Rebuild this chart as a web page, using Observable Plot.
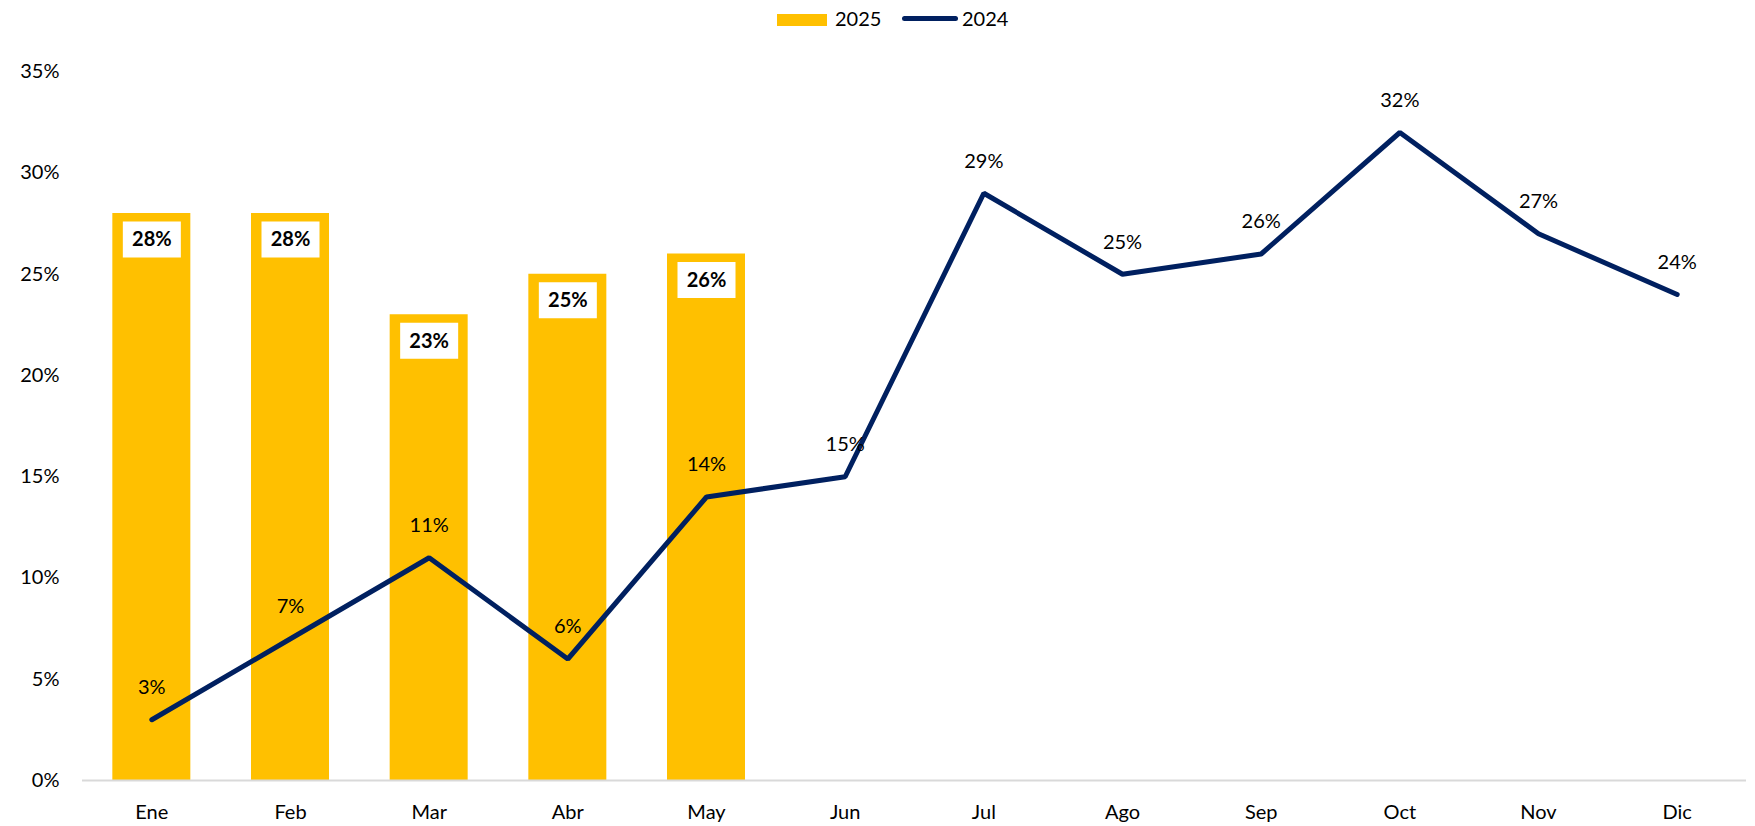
<!DOCTYPE html>
<html>
<head>
<meta charset="utf-8">
<script src="https://cdn.jsdelivr.net/npm/d3@7"></script>
<script src="https://cdn.jsdelivr.net/npm/@observablehq/plot@0.6"></script>
<style>
  html, body { margin: 0; padding: 0; background: #fff; }
  body { width: 1755px; height: 826px; overflow: hidden; font-family: Lato, "Open Sans", sans-serif; }
  #legend { position: relative; height: 36px; width: 1755px; font-size: 20px; color: #000; }
  #legend .sw { position: absolute; }
  #legend .lab { position: absolute; top: 5px; line-height: 26px; }
</style>
</head>
<body>
<div id="legend">
  <div class="sw" style="left:777px;top:14px;width:50px;height:12px;background:#FFC000"></div>
  <div class="lab" style="left:835px">2025</div>
  <div class="sw" style="left:902px;top:16px;width:56px;height:5px;border-radius:3px;background:#002060"></div>
  <div class="lab" style="left:962px">2024</div>
</div>
<div id="chart"></div>
<script>
const months = ["Ene","Feb","Mar","Abr","May","Jun","Jul","Ago","Sep","Oct","Nov","Dic"];
const months2025 = ["Ene","Feb","Mar","Abr","May"];
const values2025 = [28, 28, 23, 25, 26];
const values2024 = [3, 7, 11, 6, 14, 15, 29, 25, 26, 32, 27, 24];
const yTicks = [0, 5, 10, 15, 20, 25, 30, 35];

const bars = months2025.map((m, i) => ({month: m, value: values2025[i]}));
const line = months.map((m, i) => ({month: m, value: values2024[i]}));

const boxSymbol = { draw(context) { context.rect(-29, -18, 58, 36); } };

const chart = Plot.plot({
  width: 1755,
  height: 790,
  marginLeft: 82,
  marginRight: 9,
  marginTop: 35.25,
  marginBottom: 46,
  style: { fontFamily: "Lato, 'Open Sans', sans-serif", fontSize: "20px", color: "#000", background: "#fff" },
  x: { domain: months, type: "band", paddingInner: 0.4375, paddingOuter: 0.21875, round: false, label: null },
  y: { domain: [0, 35], label: null },
  marks: [
    Plot.axisY({ ticks: yTicks, tickSize: 0, tickPadding: 23, tickFormat: d => d + "%", label: null, fontSize: 20 }),
    Plot.axisX({ tickSize: 0, tickPadding: 24, label: null, fontSize: 20 }),
    Plot.barY(bars, { x: "month", y: "value", fill: "#FFC000" }),
    Plot.ruleY([0], { stroke: "#d9d9d9", strokeWidth: 2 }),
    Plot.dot(bars, { x: "month", y: "value", symbol: boxSymbol, r: 10, fill: "#fff", stroke: null, dy: 26 }),
    Plot.text(bars, { x: "month", y: "value", text: d => d.value + "%", dy: 26.5, fontWeight: "bold", fontSize: 20, fill: "#000" }),
    Plot.line(line, { x: "month", y: "value", stroke: "#002060", strokeWidth: 5, strokeLinejoin: "miter", strokeLinecap: "round" }),
    Plot.text(line, { x: "month", y: "value", text: d => d.value + "%", dy: -32, fontSize: 20, fill: "#000" })
  ]
});
document.getElementById("chart").appendChild(chart);
</script>
</body>
</html>
